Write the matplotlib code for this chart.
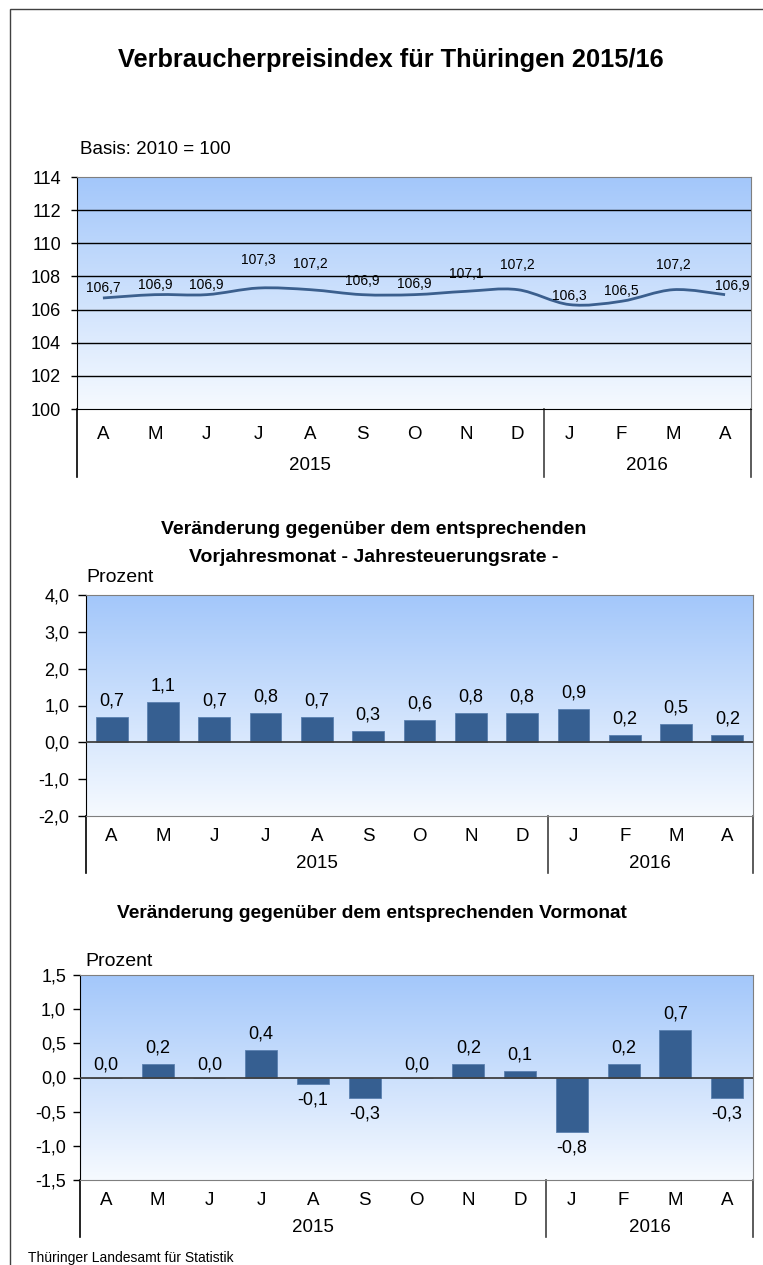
import numpy as np
import matplotlib
matplotlib.use("Agg")
import matplotlib.pyplot as plt
from matplotlib.path import Path
from matplotlib.patches import PathPatch, Rectangle
import matplotlib.transforms as mtrans

plt.rcParams['font.family'] = ['Liberation Sans', 'DejaVu Sans']

# daten
monate = ['A', 'M', 'J', 'J', 'A', 'S', 'O', 'N', 'D', 'J', 'F', 'M', 'A']
jahre = ['2015', '2016']
jahr_start = [0, 9]          # erster Monat je Jahr
index_vpi = [106.7, 106.9, 106.9, 107.3, 107.2, 106.9, 106.9, 107.1, 107.2, 106.3, 106.5, 107.2, 106.9]
vorjahr = [0.7, 1.1, 0.7, 0.8, 0.7, 0.3, 0.6, 0.8, 0.8, 0.9, 0.2, 0.5, 0.2]
vormonat = [0.0, 0.2, 0.0, 0.4, -0.1, -0.3, 0.0, 0.2, 0.1, -0.8, 0.2, 0.7, -0.3]

# Beschriftungsversatz (Pixel) im Indexdiagramm
lbl_dy = [10, 10, 10, 28, 26, 14, 11, 17, 25, 9, 10, 25, 9]
lbl_dx = [0, 0, 0, 0, 0, 0, 0, 0, 0, 0, 0, 0, 7]

W, H = 763, 1265
fig = plt.figure(figsize=(W / 100, H / 100), dpi=100)

blau = '#365f91'
grad = np.linspace(0, 1, 256)[:, None]
c_top = np.array([163, 199, 250]) / 255
c_bot = np.array([246, 250, 255]) / 255
grad_img = c_top[None, None, :] * (1 - grad[..., None]) + c_bot[None, None, :] * grad[..., None]


def achse(left, top, right, bottom):
    return fig.add_axes([left / W, 1 - bottom / H, (right - left) / W, (bottom - top) / H])


def grundgeruest(ax, ymin, ymax, ext_px, fs_tick, tick_len, tick_pad, fmt, mon_pad, jahr_px):
    x = np.arange(len(monate))
    ax.set_xlim(-0.5, len(monate) - 0.5)
    ax.set_ylim(ymin, ymax)
    ax.imshow(grad_img, extent=[-0.5, len(monate) - 0.5, ymin, ymax], aspect='auto', zorder=0)
    ax.set_xticks(x)
    ax.set_xticklabels(monate, fontsize=13.5)
    ax.tick_params(axis='x', length=0, pad=mon_pad)
    ax.tick_params(axis='y', length=tick_len, pad=tick_pad, labelsize=fs_tick, width=1)
    ax.yaxis.set_major_formatter(plt.FuncFormatter(fmt))
    for s in ['top', 'right', 'bottom']:
        ax.spines[s].set_color('#7f7f7f')
    ax.spines['left'].set_color('black')
    # Trennlinien der Kategorieachse
    h_px = ax.get_position().height * H
    ext = ext_px / h_px
    tr = mtrans.blended_transform_factory(ax.transData, ax.transAxes)
    for xs, col in [(-0.5, 'black'), (8.5, '#404040'), (len(monate) - 0.5, '#404040')]:
        ax.plot([xs, xs], [0, -ext], transform=tr, color=col, lw=1.2, clip_on=False)
    # Jahre
    grenzen = jahr_start + [len(monate)]
    for j, name in enumerate(jahre):
        xm = (grenzen[j] + grenzen[j + 1] - 1) / 2
        ax.text(xm, -jahr_px / h_px, name, transform=tr, ha='center', va='center', fontsize=13.5)
    return x


# Rahmen
fig.patches.append(Rectangle((9.5 / W, -0.01), 1.0, 1 - 8.5 / H - (-0.01), transform=fig.transFigure,
                             fill=False, edgecolor='#404040', lw=1.0))

fig.text(391 / W, 1 - 60 / H, 'Verbraucherpreisindex für Thüringen 2015/16',
         ha='center', va='center', fontsize=18.3, fontweight='bold')
fig.text(80 / W, 1 - 149 / H, 'Basis: 2010 = 100', ha='left', va='center', fontsize=13.5)

# Panel 1: Index
ax1 = achse(77, 177, 751, 409)
x = grundgeruest(ax1, 100, 114, 68, 13, 4.5, 7, lambda v, p: '%d' % v, 12, 57)
ax1.set_yticks(np.arange(100, 115, 2))
for yv in np.arange(102, 114, 2):
    ax1.axhline(yv, color='black', lw=1.0, zorder=1)
ax1.spines['bottom'].set_color('black')

# geglaettete Linie (Catmull-Rom -> Bezier)
P = np.column_stack([x, index_vpi]).astype(float)
Pe = np.vstack([P[0], P, P[-1]])
verts = [P[0]]
codes = [Path.MOVETO]
for i in range(len(P) - 1):
    p0, p1, p2, p3 = Pe[i], Pe[i + 1], Pe[i + 2], Pe[i + 3]
    verts += [p1 + (p2 - p0) / 6, p2 - (p3 - p1) / 6, p2]
    codes += [Path.CURVE4] * 3
ax1.add_patch(PathPatch(Path(verts, codes), fill=False, edgecolor='#3b5f8e', lw=2.0, zorder=3))
for i, v in enumerate(index_vpi):
    ax1.annotate(('%.1f' % v).replace('.', ','), (x[i], v), xytext=(lbl_dx[i], lbl_dy[i]),
                 textcoords='offset pixels', ha='center', va='center', fontsize=10, zorder=4)

# Panel 2: Vorjahresmonat
fig.text(374 / W, 1 - 530 / H, 'Veränderung gegenüber dem entsprechenden', ha='center', va='center',
         fontsize=14, fontweight='bold')
fig.text(374 / W, 1 - 557 / H, 'Vorjahresmonat - Jahresteuerungsrate -', ha='center', va='center',
         fontsize=14, fontweight='bold')
fig.text(86 / W, 1 - 578 / H, 'Prozent', ha='left', va='center', fontsize=14)

komma = lambda v, p: ('%.1f' % v).replace('.', ',')
ax2 = achse(86, 595, 753, 816)
x = grundgeruest(ax2, -2, 4, 57, 13, 6, 6, komma, 8.5, 48)
ax2.set_yticks(np.arange(-2, 4.1, 1))
ax2.bar(x, vorjahr, width=0.62, color=blau, edgecolor='#5a80b0', lw=0.6, zorder=2)
ax2.axhline(0, color='#404040', lw=1.3, zorder=3)
for i, v in enumerate(vorjahr):
    ax2.annotate(('%.1f' % v).replace('.', ','), (x[i], v), xytext=(0, 16),
                 textcoords='offset pixels', ha='center', va='center', fontsize=13)

# Panel 3: Vormonat
fig.text(372 / W, 1 - 913 / H, 'Veränderung gegenüber dem entsprechenden Vormonat', ha='center',
         va='center', fontsize=13.8, fontweight='bold')
fig.text(85 / W, 1 - 961 / H, 'Prozent', ha='left', va='center', fontsize=14)

ax3 = achse(80, 975, 753, 1180)
x = grundgeruest(ax3, -1.5, 1.5, 57, 13, 5, 5, komma, 8.5, 48)
ax3.set_yticks(np.arange(-1.5, 1.6, 0.5))
ax3.bar(x, vormonat, width=0.62, color=blau, edgecolor='#5a80b0', lw=0.6, zorder=2)
ax3.axhline(0, color='#404040', lw=1.3, zorder=3)
for i, v in enumerate(vormonat):
    dy = 16 if v >= 0 else -16
    if v == 0:
        dy = 13
    ax3.annotate(('%.1f' % v).replace('.', ','), (x[i], v), xytext=(0, dy),
                 textcoords='offset pixels', ha='center', va='center', fontsize=13)

fig.text(28 / W, 1 - 1258 / H, 'Thüringer Landesamt für Statistik', ha='left', va='center', fontsize=10)

fig.savefig('out.png', dpi=100)
